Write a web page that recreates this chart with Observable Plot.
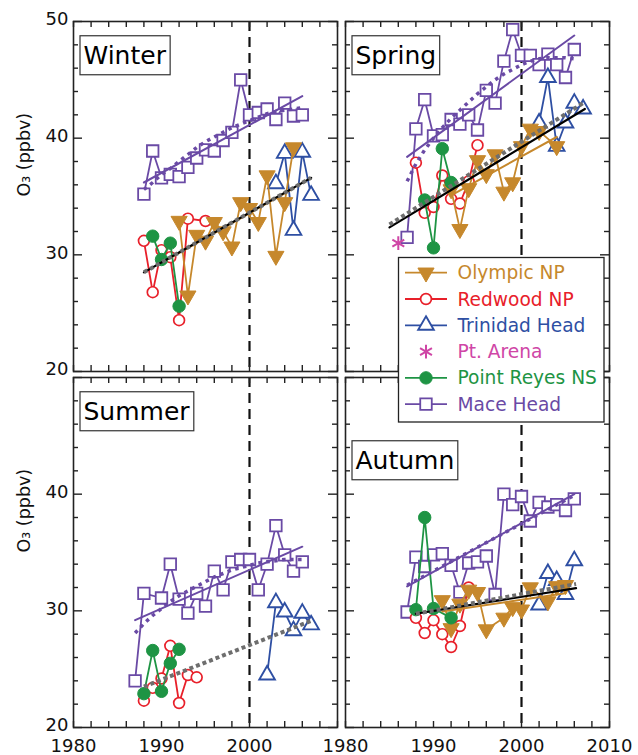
<!DOCTYPE html>
<html><head><meta charset="utf-8">
<script src="https://cdn.jsdelivr.net/npm/d3@7"></script>
<script src="https://cdn.jsdelivr.net/npm/@observablehq/plot@0.6"></script>
<style>
html,body{margin:0;padding:0;background:#fff;}
#chart{position:relative;width:638px;height:755px;}
</style>
</head><body><div id="chart"></div>
<script>
// ---------- panels ----------
const seasons = ["Winter", "Spring", "Summer", "Autumn"];
const seasonCol = [0, 1, 0, 1];
const seasonRow = [0, 0, 1, 1];

// ---------- sites ----------
const sites = ["Olympic NP", "Redwood NP", "Trinidad Head", "Pt. Arena", "Point Reyes NS", "Mace Head"];
const siteColors = ["#C6882C", "#E8202A", "#2E4FA3", "#CF46A6", "#1E9444", "#6A4AA5"];

// ---------- Winter ----------
const winterOlympic = [[1992,32.9],[1993,26.5],[1994,31.7],[1995,31.2],[1996,32.8],[1997,32.0],[1998,30.7],[1999,34.5],[2000,34.0],[2001,32.8],[2002,36.8],[2003,29.9],[2004,34.5],[2005,39.2]];
const winterRedwood = [[1988,31.2],[1989,26.8],[1990,30.4],[1991,29.8],[1992,24.4],[1993,33.1],[1995,32.9]];
const winterTrinidad = [[2003,36.1],[2004,38.7],[2005,32.1],[2006,38.8],[2007,35.1]];
const winterPointReyes = [[1989,31.6],[1990,29.6],[1991,31.0],[1992,25.6]];
const winterMace = [[1988,35.2],[1989,38.9],[1990,36.6],[1991,36.9],[1992,36.7],[1993,37.5],[1994,38.3],[1995,39.0],[1996,38.9],[1997,39.8],[1998,40.5],[1999,45.0],[2000,42.0],[2001,42.2],[2002,42.5],[2003,41.6],[2004,43.0],[2005,41.9],[2006,42.0]];
const winterMaceTrend = [[1988,36.2],[2006,43.6]];
const winterMaceSmooth = [[1988,35.6],[1989,36.2],[1990,36.9],[1991,37.4],[1992,38.0],[1993,38.6],[1994,39.2],[1995,39.7],[1996,40.1],[1997,40.5],[1998,40.9],[1999,41.2],[2000,41.5],[2001,41.8],[2002,42.1],[2003,42.3],[2004,42.4],[2005,42.5],[2006,42.6]];
const winterOlympicTrend = [[1990.7,29.6],[2005,35.7]];
const winterAllTrend = [[1988,28.5],[2007,36.6]];
const winterAllFit = [[1988,28.5],[2007,36.6]];

// ---------- Spring ----------
const springOlympic = [[1992,35.6],[1993,32.2],[1994,35.7],[1995,38.1],[1996,36.9],[1997,38.6],[1998,35.4],[1999,36.2],[2000,39.3],[2001,40.8],[2002,40.6],[2004,39.3]];
const springRedwood = [[1988,37.9],[1989,33.6],[1990,34.1],[1991,36.8],[1992,34.8],[1993,34.4],[1994,36.3],[1995,39.4]];
const springTrinidad = [[2002,41.3],[2003,45.2],[2004,39.3],[2005,41.3],[2006,43.0],[2007,42.5]];
const springArena = [[1986,31.0]];
const springPointReyes = [[1989,34.7],[1990,30.6],[1991,39.1],[1992,36.2]];
const springMace = [[1987,31.5],[1988,40.8],[1989,43.3],[1990,40.2],[1991,40.3],[1992,41.6],[1993,41.2],[1994,42.0],[1995,40.7],[1996,44.1],[1997,43.0],[1998,46.6],[1999,49.3],[2000,47.1],[2001,47.1],[2002,46.3],[2003,47.2],[2004,46.3],[2005,45.2],[2006,47.6]];
const springMaceTrend = [[1987,38.4],[2006,48.8]];
const springMaceSmooth = [[1987,36.3],[1988,37.8],[1989,39.0],[1990,40.0],[1991,40.9],[1992,41.7],[1993,42.4],[1994,43.1],[1995,43.8],[1996,44.4],[1997,45.0],[1998,45.5],[1999,45.9],[2000,46.3],[2001,46.6],[2002,46.8],[2003,46.9],[2004,46.9],[2005,46.9],[2006,46.8]];
const springOlympicTrend = [[1992,35.1],[2004,40.1]];
const springAllTrend = [[1985,32.6],[2007.2,43.1]];
const springAllFit = [[1985,32.35],[2007.2,42.5]];

// ---------- Summer ----------
const summerRedwood = [[1988,22.3],[1989,23.4],[1990,24.2],[1991,27.0],[1992,22.1],[1993,24.5],[1994,24.3]];
const summerTrinidad = [[2002,24.5],[2003,30.7],[2004,29.9],[2005,28.3],[2006,29.8],[2007,28.8]];
const summerPointReyes = [[1988,22.9],[1989,26.6],[1990,23.1],[1991,25.5],[1992,26.7]];
const summerMace = [[1987,24.0],[1988,31.5],[1990,31.1],[1991,34.0],[1992,31.0],[1993,29.8],[1994,31.5],[1995,30.4],[1996,33.4],[1997,31.8],[1998,34.2],[1999,34.4],[2000,34.4],[2001,31.8],[2002,34.0],[2003,37.3],[2004,34.8],[2005,33.4],[2006,34.2]];
const summerMaceTrend = [[1987,29.2],[2006,35.5]];
const summerMaceSmooth = [[1987,28.1],[1988,28.9],[1989,29.6],[1990,30.2],[1991,30.8],[1992,31.3],[1993,31.7],[1994,32.1],[1995,32.5],[1996,32.9],[1997,33.2],[1998,33.5],[1999,33.7],[2000,33.9],[2001,34.1],[2002,34.2],[2003,34.3],[2004,34.4],[2005,34.4],[2006,34.4]];
const summerAllTrend = [[1988,23.5],[2007.2,29.2]];

// ---------- Autumn ----------
const autumnOlympic = [[1991,30.9],[1992,28.5],[1993,30.6],[1994,31.8],[1995,31.6],[1996,28.4],[1998,29.4],[1999,30.3],[2000,30.1],[2001,32.0],[2003,30.8],[2004,32.1],[2005,32.2]];
const autumnRedwood = [[1988,29.4],[1989,28.1],[1990,29.2],[1991,28.0],[1992,26.9],[1993,28.7],[1994,32.0]];
const autumnTrinidad = [[2002,30.5],[2003,33.2],[2004,32.6],[2005,31.4],[2006,34.3]];
const autumnPointReyes = [[1988,30.1],[1989,38.0],[1990,30.2],[1992,29.4]];
const autumnMace = [[1987,29.9],[1988,34.6],[1989,33.8],[1990,34.8],[1991,34.9],[1992,33.9],[1993,31.6],[1994,34.1],[1995,34.2],[1996,34.7],[1997,31.4],[1998,40.0],[1999,39.1],[2000,39.8],[2001,37.7],[2002,39.3],[2003,38.9],[2004,39.1],[2005,38.6],[2006,39.6]];
const autumnMaceTrend = [[1987,32.1],[2006,40.0]];
const autumnMaceSmooth = [[1987,32.2],[2006,39.9]];
const autumnOlympicTrend = [[1991,29.95],[2005,31.5]];
const autumnAllTrend = [[1988,29.75],[2006.2,32.3]];
const autumnAllFit = [[1988,29.75],[2006.2,31.95]];

// ---------- axes ----------
const xTicks = [1980,1982,1984,1986,1988,1990,1992,1994,1996,1998,2000,2002,2004,2006,2008,2010];
const xMajorTicks = [1980,1990,2000,2010];
const yTicks = [20,22,24,26,28,30,32,34,36,38,40,42,44,46,48,50];
const yMajorTicks = [20,30,40,50];
const xLabelsLeft = [1980,1990,2000];
const xLabelsRight = [1980,1990,2000,2010];
const yLabelsTop = [20,30,40,50];
const yLabelsBottom = [20,30,40];
const yTitle = "O₃ (ppbv)";
const year2000 = 2000;

// ---------- build tables ----------
const pos = Object.fromEntries(seasons.map((s, i) => [s, {col: seasonCol[i], row: seasonRow[i]}]));
const rows = (season, pairs) => pairs.map(([year, o3]) => ({season, ...pos[season], year, o3}));
const panels = seasons.map(s => ({season: s, ...pos[s]}));

const olympic = [...rows("Winter", winterOlympic), ...rows("Spring", springOlympic), ...rows("Autumn", autumnOlympic)];
const redwood = [...rows("Winter", winterRedwood), ...rows("Spring", springRedwood), ...rows("Summer", summerRedwood), ...rows("Autumn", autumnRedwood)];
const trinidad = [...rows("Winter", winterTrinidad), ...rows("Spring", springTrinidad), ...rows("Summer", summerTrinidad), ...rows("Autumn", autumnTrinidad)];
const arena = rows("Spring", springArena);
const pointReyes = [...rows("Winter", winterPointReyes), ...rows("Spring", springPointReyes), ...rows("Summer", summerPointReyes), ...rows("Autumn", autumnPointReyes)];
const mace = [...rows("Winter", winterMace), ...rows("Spring", springMace), ...rows("Summer", summerMace), ...rows("Autumn", autumnMace)];
const maceTrend = [...rows("Winter", winterMaceTrend), ...rows("Spring", springMaceTrend), ...rows("Summer", summerMaceTrend), ...rows("Autumn", autumnMaceTrend)];
const maceSmooth = [...rows("Winter", winterMaceSmooth), ...rows("Spring", springMaceSmooth), ...rows("Summer", summerMaceSmooth), ...rows("Autumn", autumnMaceSmooth)];
const olympicTrend = [...rows("Winter", winterOlympicTrend), ...rows("Spring", springOlympicTrend), ...rows("Autumn", autumnOlympicTrend)];
const allTrend = [...rows("Winter", winterAllTrend), ...rows("Spring", springAllTrend), ...rows("Summer", summerAllTrend), ...rows("Autumn", autumnAllTrend)];
const allFit = [...rows("Winter", winterAllFit), ...rows("Spring", springAllFit), ...rows("Autumn", autumnAllFit)];

const xTickData = panels.flatMap(p => xTicks.map(t => ({...p, t, major: xMajorTicks.includes(t)})));
const yTickData = panels.flatMap(p => yTicks.map(v => ({...p, v, major: yMajorTicks.includes(v)})));
const xLabelData = [...xLabelsLeft.map(t => ({col: 0, row: 1, t})), ...xLabelsRight.map(t => ({col: 1, row: 1, t}))];
const yLabelData = [...yLabelsTop.map(v => ({col: 0, row: 0, v})), ...yLabelsBottom.map(v => ({col: 0, row: 1, v}))];
const yTitleData = [{col: 0, row: 0}, {col: 0, row: 1}];

const [cOly, cRed, cTri, cAre, cRey, cMac] = siteColors;
const triangleDown = {
  draw(ctx, size) {
    const y = -Math.sqrt(size / (3 * Math.sqrt(3)));
    ctx.moveTo(0, -2 * y);
    ctx.lineTo(-Math.sqrt(3) * y, y);
    ctx.lineTo(Math.sqrt(3) * y, y);
    ctx.closePath();
  }
};
const F = {fx: "col", fy: "row"};
const XY = {x: "year", y: "o3", ...F};
const tickStroke = {stroke: "#222", strokeWidth: 1.4};
const dotted = {strokeLinecap: "butt", strokeLinejoin: "miter"};

const plot = Plot.plot({
  width: 638, height: 755,
  marginLeft: 73, marginRight: 29, marginTop: 21, marginBottom: 28,
  style: {fontFamily: "'DejaVu Sans', sans-serif", background: "white", overflow: "visible"},
  x: {domain: [1980, 2010], axis: null},
  y: {domain: [20, 50], axis: null},
  fx: {domain: [0, 1], paddingInner: 0.03, paddingOuter: 0, axis: null, label: null},
  fy: {domain: [0, 1], paddingInner: 0.018, paddingOuter: 0, axis: null, label: null},
  marks: [
    // 2000 dashed divider
    Plot.ruleX(panels, {x: () => year2000, ...F, stroke: "#111", strokeWidth: 2.2, strokeDasharray: "10,6"}),
    // site series
    Plot.line(mace, {...XY, stroke: cMac, strokeWidth: 1.8}),
    Plot.dot(mace, {...XY, symbol: "square", r: 6.5, fill: "white", stroke: cMac, strokeWidth: 1.8}),
    Plot.line(trinidad, {...XY, stroke: cTri, strokeWidth: 1.8}),
    Plot.dot(trinidad, {...XY, symbol: "triangle", r: 5.8, fill: "white", stroke: cTri, strokeWidth: 1.9}),
    Plot.line(redwood, {...XY, stroke: cRed, strokeWidth: 1.8}),
    Plot.dot(redwood, {...XY, symbol: "circle", r: 5.4, fill: "white", stroke: cRed, strokeWidth: 1.7}),
    Plot.line(olympic, {...XY, stroke: cOly, strokeWidth: 1.8}),
    Plot.dot(olympic, {...XY, symbol: triangleDown, r: 6, fill: cOly, stroke: cOly, strokeWidth: 1}),
    Plot.line(pointReyes, {...XY, stroke: cRey, strokeWidth: 1.8}),
    Plot.dot(pointReyes, {...XY, symbol: "circle", r: 6.2, fill: cRey, stroke: cRey, strokeWidth: 1}),
    Plot.dot(arena, {...XY, symbol: "asterisk", r: 6.5, stroke: cAre, strokeWidth: 2}),
    // trend lines
    Plot.line(olympicTrend, {...XY, stroke: cOly, strokeWidth: 2}),
    Plot.line(allFit, {...XY, stroke: "#000", strokeWidth: 2.2}),
    Plot.line(allTrend, {...XY, stroke: "#6e6e6e", strokeWidth: 4, strokeDasharray: "4,3", ...dotted}),
    Plot.line(maceTrend, {...XY, stroke: cMac, strokeWidth: 2}),
    Plot.line(maceSmooth, {...XY, stroke: cMac, strokeWidth: 3.5, strokeDasharray: "3.5,4.5", ...dotted}),
    // frame and inward ticks
    Plot.frame({stroke: "#222", strokeWidth: 1.6}),
    Plot.ruleX(xTickData, {x: "t", y1: 20, y2: 20, insetTop: -6, ...F, ...tickStroke}),
    Plot.ruleX(xTickData, {x: "t", y1: 50, y2: 50, insetBottom: -6, ...F, ...tickStroke}),
    Plot.ruleY(yTickData, {y: "v", x1: 1980, x2: 1980, ...F, ...tickStroke, filter: d => !d.major, insetRight: -5}),
    Plot.ruleY(yTickData, {y: "v", x1: 1980, x2: 1980, ...F, ...tickStroke, filter: d => d.major, insetRight: -9}),
    Plot.ruleY(yTickData, {y: "v", x1: 2010, x2: 2010, ...F, ...tickStroke, filter: d => !d.major, insetLeft: -5}),
    Plot.ruleY(yTickData, {y: "v", x1: 2010, x2: 2010, ...F, ...tickStroke, filter: d => d.major, insetLeft: -9}),
    // tick labels
    Plot.text(xLabelData, {x: "t", ...F, text: d => String(d.t), frameAnchor: "bottom", lineAnchor: "top", dy: 12, fontSize: 18, fill: "#111"}),
    Plot.text(yLabelData, {y: "v", ...F, text: d => String(d.v), frameAnchor: "left", textAnchor: "end", dx: -5, dy: -2, fontSize: 18, fill: "#111"}),
    Plot.text(yTitleData, {...F, text: () => yTitle, frameAnchor: "left", rotate: -90, dx: -49, fontSize: 17.5, fill: "#111"}),
    // season labels
    Plot.text(panels.filter(p => p.season !== "Autumn"), {...F, text: "season", frameAnchor: "top-left", textAnchor: "start", lineAnchor: "top", dx: 10, dy: 25, fontSize: 25, fill: "#000", ariaDescription: "season-label"}),
    Plot.text(panels.filter(p => p.season === "Autumn"), {...F, text: "season", frameAnchor: "top-left", textAnchor: "start", lineAnchor: "top", dx: 10, dy: 74, fontSize: 25, fill: "#000", ariaDescription: "season-label"})
  ]
});

document.getElementById("chart").appendChild(plot);

// boxes around the season labels
d3.select(plot).selectAll("g[aria-description='season-label'] text").each(function() {
  const b = this.getBBox();
  d3.select(this.parentNode).insert("rect", () => this)
    .attr("transform", this.getAttribute("transform"))
    .attr("x", b.x - 3.5).attr("y", b.y - 5.5)
    .attr("width", b.width + 7).attr("height", b.height + 10)
    .attr("fill", "white").attr("stroke", "#333").attr("stroke-width", 1.2);
});

// legend (symbol + line keys) drawn over the right-hand panels
const svg = d3.select(plot);
const lg = svg.append("g").attr("font-family", "'DejaVu Sans', sans-serif").attr("text-anchor", "start");
lg.append("rect").attr("x", 398.5).attr("y", 257.5).attr("width", 205.5).attr("height", 164.5)
  .attr("fill", "white").attr("stroke", "#222").attr("stroke-width", 1.3);
const legendSymbols = [
  {type: triangleDown, r: 6, fill: cOly, stroke: cOly, sw: 1, line: true},
  {type: d3.symbolCircle, r: 5.4, fill: "white", stroke: cRed, sw: 1.7, line: true},
  {type: d3.symbolTriangle, r: 5.8, fill: "white", stroke: cTri, sw: 1.9, line: true},
  {type: d3.symbolAsterisk, r: 6.5, fill: "none", stroke: cAre, sw: 2, line: false},
  {type: d3.symbolCircle, r: 6.2, fill: cRey, stroke: cRey, sw: 1, line: true},
  {type: d3.symbolSquare, r: 6.5, fill: "white", stroke: cMac, sw: 1.8, line: true}
];
sites.forEach((s, i) => {
  const cy = 272.7 + i * 26.3;
  const sym = legendSymbols[i];
  if (sym.line) lg.append("line").attr("x1", 405).attr("x2", 447).attr("y1", cy).attr("y2", cy)
    .attr("stroke", siteColors[i]).attr("stroke-width", 1.8);
  lg.append("path").attr("transform", `translate(426,${cy})`)
    .attr("d", d3.symbol().type(sym.type).size(sym.r * sym.r * Math.PI)())
    .attr("fill", sym.fill).attr("stroke", sym.stroke).attr("stroke-width", sym.sw);
  lg.append("text").attr("x", 457.5).attr("y", cy).attr("dy", "0.35em")
    .attr("font-size", 18.6).attr("fill", siteColors[i]).text(s);
});
</script>
</body></html>
